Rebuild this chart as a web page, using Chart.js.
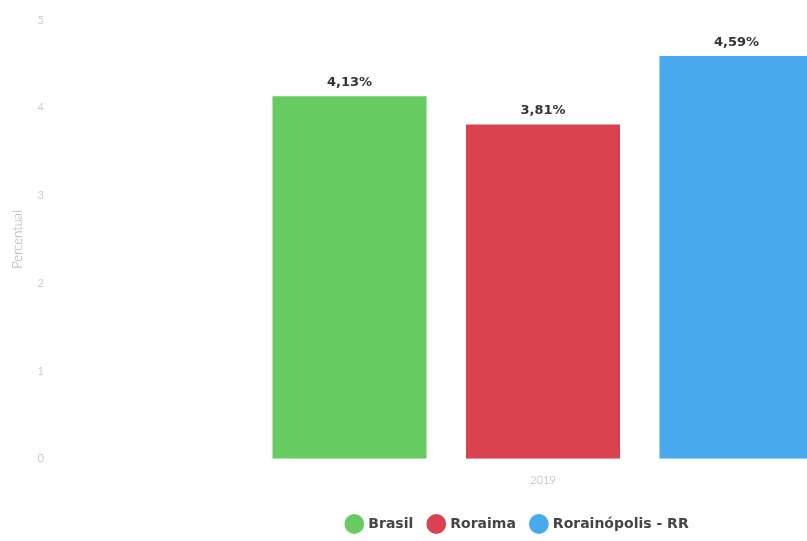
<!DOCTYPE html>
<html>
<head>
<meta charset="utf-8">
<script src="https://cdn.jsdelivr.net/npm/chart.js@4/dist/chart.umd.min.js"></script>
<style>
html,body{margin:0;padding:0;background:#fff;overflow:hidden;width:807px;height:541px}
canvas{display:block}
</style>
</head>
<body>
<canvas id="c" width="1030" height="541"></canvas>
<script>
// dados
const anos = ['2019'];
const locais = ['Brasil', 'Roraima', 'Rorainópolis - RR'];
const valores = [[4.13], [3.81], [4.59]];
const cores = ['#66cc62', '#da4250', '#48a9ee'];
const yTicks = [0, 1, 2, 3, 4, 5];

// rotulos em cima das barras
const rotulos = {
  id: 'rotulos',
  afterDatasetsDraw(chart){
    const ctx = chart.ctx;
    ctx.save();
    ctx.font = 'bold 13px "DejaVu Sans", sans-serif';
    ctx.fillStyle = '#333';
    ctx.textAlign = 'center';
    ctx.textBaseline = 'bottom';
    chart.data.datasets.forEach((ds, i)=>{
      chart.getDatasetMeta(i).data.forEach((bar, j)=>{
        const v = ds.data[j].toFixed(2).replace('.', ',') + '%';
        ctx.fillText(v, bar.x, bar.y - 7);
      });
    });
    ctx.restore();
  }
};

new Chart(document.getElementById('c'), {
  type: 'bar',
  data: {
    labels: anos,
    datasets: locais.map((l, i)=>({
      label: l,
      data: valores[i],
      backgroundColor: cores[i],
      borderWidth: 0,
      categoryPercentage: 0.596,
      barPercentage: 0.796
    }))
  },
  options: {
    responsive: false,
    animation: false,
    layout: {padding: {top: 20, right: 0, left: 6, bottom: 0}},
    scales: {
      y: {
        min: 0, max: 5,
        afterBuildTicks: ax => { ax.ticks = yTicks.map(v=>({value: v})); },
        afterFit: ax => { ax.width = 50; },
        grid: {display: false},
        border: {display: false},
        ticks: {color: '#aaa', font: {family: 'Lato', size: 11, weight: '300'}, padding: 4},
        title: {display: true, text: 'Percentual', color: '#aaa', font: {family: 'Lato', size: 13, weight: '300'}}
      },
      x: {
        afterFit: ax => { ax.height += 7; },
        grid: {display: false},
        border: {display: false},
        ticks: {color: '#aaa', font: {family: 'Lato', size: 11, weight: '300'}, padding: 7}
      }
    },
    plugins: {
      legend: {
        position: 'bottom',
        labels: {
          usePointStyle: true, pointStyle: 'circle', boxWidth: 17, boxHeight: 17,
          color: '#444', font: {family: 'DejaVu Sans', size: 14, weight: 'bold'}, padding: 16
        }
      },
      tooltip: {enabled: false}
    }
  },
  plugins: [rotulos]
});
</script>
</body>
</html>
